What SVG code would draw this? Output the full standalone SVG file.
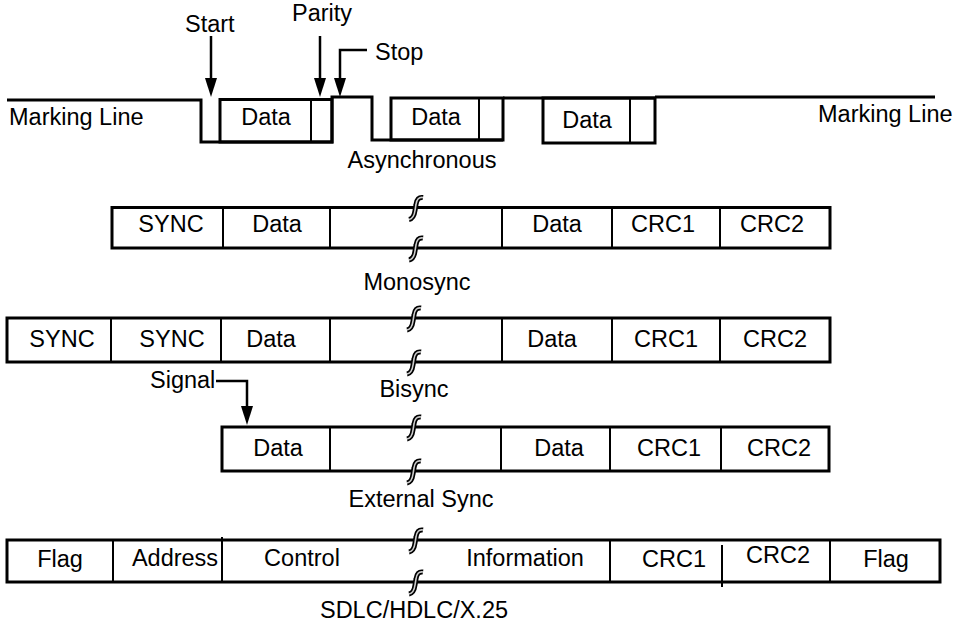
<svg xmlns="http://www.w3.org/2000/svg" width="954" height="629" viewBox="0 0 954 629">
<style>
text{font-family:"Liberation Sans",Arial,sans-serif;font-size:23.5px;fill:#000}
.m{text-anchor:middle}
.frame{fill:none;stroke:#000;stroke-width:3}
.div{stroke:#000;stroke-width:2}
.wave{fill:none;stroke:#000;stroke-width:3}
.arr{fill:none;stroke:#000;stroke-width:2.5}
.brk1{fill:none;stroke:#000;stroke-width:5}
.brk2{fill:none;stroke:#ccc;stroke-width:1.6}
</style>
<defs>
<marker id="ah" markerUnits="userSpaceOnUse" markerWidth="20" markerHeight="12" refX="0" refY="6" orient="auto">
<path d="M0,0 L19,6 L0,12 z" fill="#000"/>
</marker>
<g id="brk">
<path class="brk1" d="M6,-10 Q0,-11 -1,-3 L-2,3 Q-3,11 -8,12"/>
<path class="brk2" d="M6,-10 Q0,-11 -1,-3 L-2,3 Q-3,11 -8,12"/>
</g>
</defs>
<rect width="954" height="629" fill="#fff"/>

<g id="async">
<path class="wave" d="M7,100 H201 V142 H332 V97 H372 V140 H503"/>
<rect class="wave" x="220" y="99.5" width="112" height="42.5"/>
<line class="div" x1="311" y1="99.5" x2="311" y2="142"/>
<rect class="wave" x="391" y="98" width="112" height="42"/>
<line class="div" x1="479" y1="98" x2="479" y2="140"/>
<rect class="wave" x="543" y="98" width="112" height="45"/>
<line class="div" x1="630" y1="98" x2="630" y2="143"/>
<path class="wave" d="M503,98 H655 M655,97 H935"/>
<text x="9" y="125">Marking Line</text>
<text x="818" y="122">Marking Line</text>
<text class="m" x="266" y="125">Data</text>
<text class="m" x="436" y="125">Data</text>
<text class="m" x="587" y="128">Data</text>
<text x="185" y="32">Start</text>
<text x="292" y="21">Parity</text>
<text x="375" y="60">Stop</text>
<text class="m" x="422" y="168">Asynchronous</text>
</g>

<g id="monosync">
<rect class="frame" x="112" y="207.5" width="718" height="40.5"/>
<line class="div" x1="223" y1="207.5" x2="223" y2="248"/>
<line class="div" x1="330" y1="207.5" x2="330" y2="248"/>
<line class="div" x1="502" y1="207.5" x2="502" y2="248"/>
<line class="div" x1="612" y1="207.5" x2="612" y2="248"/>
<line class="div" x1="720" y1="207.5" x2="720" y2="248"/>
<use href="#brk" x="417" y="207.5"/>
<use href="#brk" x="417" y="248"/>
<text class="m" x="171" y="232">SYNC</text>
<text class="m" x="277" y="232">Data</text>
<text class="m" x="557" y="232">Data</text>
<text class="m" x="663" y="232">CRC1</text>
<text class="m" x="772" y="232">CRC2</text>
<text class="m" x="417" y="290">Monosync</text>
</g>

<g id="bisync">
<rect class="frame" x="7" y="318" width="823" height="44"/>
<line class="div" x1="111" y1="318" x2="111" y2="362"/>
<line class="div" x1="221" y1="318" x2="221" y2="362"/>
<line class="div" x1="330" y1="318" x2="330" y2="362"/>
<line class="div" x1="502" y1="318" x2="502" y2="362"/>
<line class="div" x1="612" y1="318" x2="612" y2="362"/>
<line class="div" x1="720" y1="318" x2="720" y2="362"/>
<use href="#brk" x="415" y="318"/>
<use href="#brk" x="415" y="362"/>
<text class="m" x="62" y="347">SYNC</text>
<text class="m" x="172" y="347">SYNC</text>
<text class="m" x="271" y="347">Data</text>
<text class="m" x="552" y="347">Data</text>
<text class="m" x="666" y="347">CRC1</text>
<text class="m" x="775" y="347">CRC2</text>
<text x="150" y="388">Signal</text>
<text class="m" x="414" y="397">Bisync</text>
</g>

<g id="extsync">
<rect class="frame" x="222" y="427" width="607" height="44"/>
<line class="div" x1="330" y1="427" x2="330" y2="471"/>
<line class="div" x1="501" y1="427" x2="501" y2="471"/>
<line class="div" x1="610" y1="427" x2="610" y2="471"/>
<line class="div" x1="721" y1="427" x2="721" y2="471"/>
<use href="#brk" x="415" y="427"/>
<use href="#brk" x="415" y="471"/>
<text class="m" x="278" y="456">Data</text>
<text class="m" x="559" y="456">Data</text>
<text class="m" x="669" y="456">CRC1</text>
<text class="m" x="779" y="456">CRC2</text>
<text class="m" x="421" y="507">External Sync</text>
</g>

<g id="sdlc">
<rect class="frame" x="7" y="540" width="933" height="42"/>
<line class="div" x1="113" y1="540" x2="113" y2="582"/>
<line class="div" x1="222" y1="537" x2="222" y2="582"/>
<line class="div" x1="610" y1="540" x2="610" y2="582"/>
<line class="div" x1="722" y1="545" x2="722" y2="587"/>
<line class="div" x1="830" y1="540" x2="830" y2="582"/>
<use href="#brk" x="417" y="540"/>
<use href="#brk" x="417" y="582"/>
<text class="m" x="60" y="567">Flag</text>
<text class="m" x="175" y="566">Address</text>
<text class="m" x="302" y="566">Control</text>
<text class="m" x="525" y="566">Information</text>
<text class="m" x="674" y="567">CRC1</text>
<text class="m" x="778" y="563">CRC2</text>
<text class="m" x="886" y="567">Flag</text>
<text class="m" x="414" y="618">SDLC/HDLC/X.25</text>
</g>

<g id="connectors">
<line class="arr" x1="211" y1="36" x2="211" y2="78" marker-end="url(#ah)"/>
<line class="arr" x1="320" y1="36" x2="320" y2="78" marker-end="url(#ah)"/>
<polyline class="arr" points="367,50 340,50 340,78" marker-end="url(#ah)"/>
<polyline class="arr" points="216,381 247,381 247,406" marker-end="url(#ah)"/>
</g>
</svg>
